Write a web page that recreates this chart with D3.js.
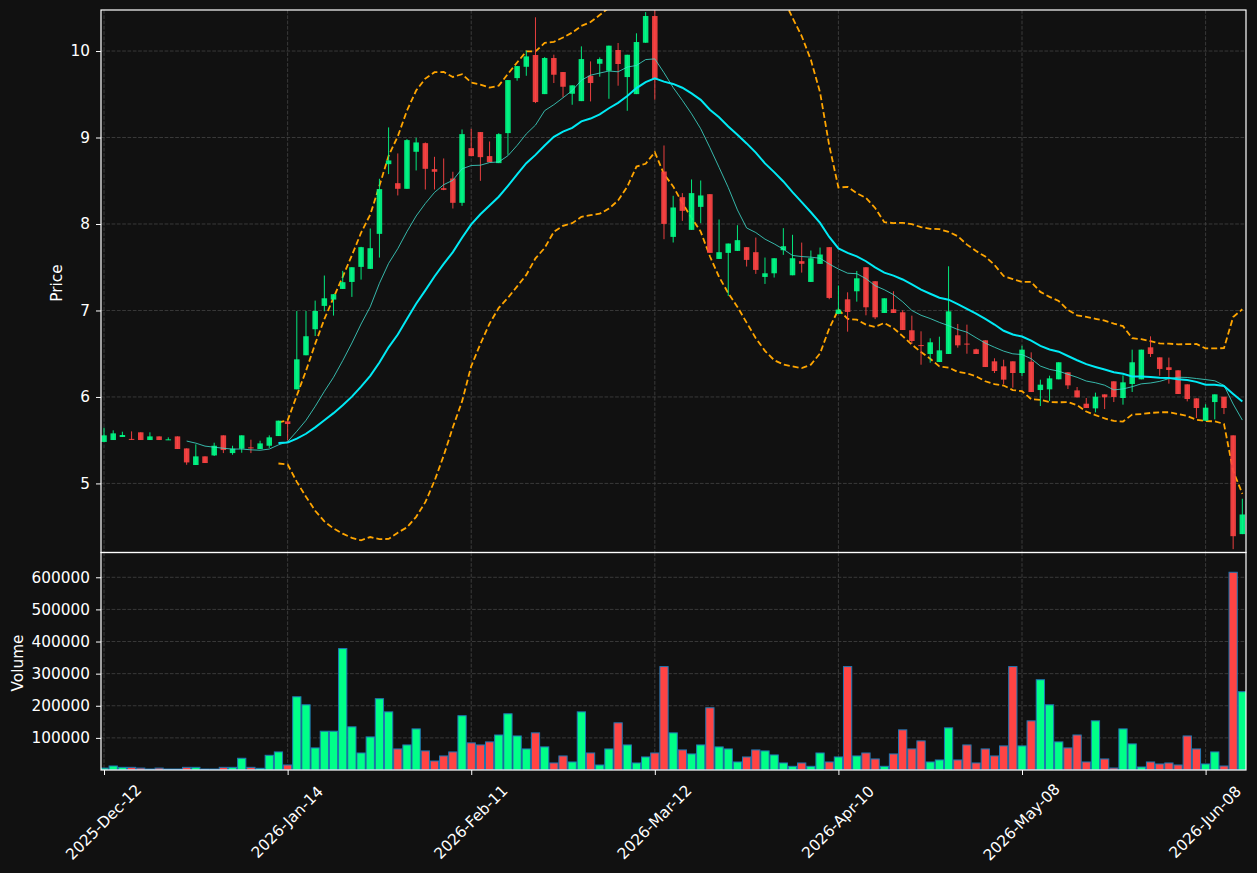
<!DOCTYPE html>
<html>
<head>
<meta charset="utf-8">
<script src="https://cdn.jsdelivr.net/npm/d3@7"></script>
<style>
  html, body { margin: 0; padding: 0; background: #111111; }
  svg { display: block; }
  text { font-family: "DejaVu Sans", sans-serif; fill: #ffffff; }
</style>
</head>
<body>
<div id="chart"></div>
<script>
// OHLC per trading day, index 0 = 2025-Dec-12
const opens = [5.48,5.502,5.537,5.515,5.591,5.502,5.544,5.502,5.544,5.405,5.213,5.313,5.324,5.556,5.351,5.402,5.417,5.398,5.436,5.548,
  5.718,6.088,6.482,6.783,7.053,7.126,7.249,7.33,7.504,7.481,7.886,8.692,8.472,8.407,8.835,8.935,8.634,8.414,8.526,8.245,
  8.877,9.063,8.785,8.704,9.051,9.687,9.818,9.954,9.502,9.919,9.757,9.506,9.421,9.714,9.853,9.772,10.012,9.699,9.502,10.096,
  10.405,8.607,7.851,8.31,7.932,8.198,8.345,7.596,7.666,7.689,7.732,7.674,7.388,7.43,7.697,7.407,7.57,7.33,7.539,7.732,
  6.96,7.129,7.222,7.5,7.338,6.971,7.014,6.979,6.771,6.6,6.497,6.404,6.497,6.713,6.617,6.551,6.655,6.412,6.354,6.412,
  6.277,6.408,6.08,6.088,6.204,6.285,6.076,5.922,5.868,6.03,6.181,5.988,6.15,6.204,6.574,6.458,6.343,6.308,6.146,5.984,
  5.725,5.941,6.003,5.556,4.414];
const highs = [5.645,5.614,5.598,5.602,5.591,5.591,5.544,5.533,5.544,5.405,5.452,5.313,5.471,5.556,5.436,5.556,5.506,5.494,5.556,5.726,
  5.718,6.995,6.995,7.114,7.404,7.188,7.458,7.5,7.736,7.948,8.523,9.117,8.816,8.982,8.997,8.943,8.777,8.758,8.604,9.093,
  9.101,9.063,8.954,9.05,9.664,9.826,10.004,10.39,9.93,9.958,9.757,9.603,10.054,9.88,9.926,10.062,10.093,9.957,10.205,10.45,
  10.47,8.908,8.326,8.357,8.515,8.503,8.345,8.052,7.774,7.986,7.732,7.843,7.612,7.604,7.952,7.875,7.785,7.693,7.728,7.732,
  7.288,7.21,7.457,7.5,7.338,7.141,7.222,7.002,6.94,6.759,6.678,6.697,7.511,6.844,6.836,6.559,6.655,6.447,6.431,6.412,
  6.593,6.516,6.2,6.246,6.401,6.285,6.115,5.988,6.05,6.03,6.181,6.25,6.547,6.547,6.701,6.458,6.455,6.308,6.146,5.984,
  5.915,6.03,6.003,5.556,4.823];
const lows = [5.48,5.502,5.537,5.502,5.502,5.502,5.502,5.502,5.398,5.216,5.213,5.236,5.317,5.351,5.332,5.355,5.351,5.398,5.41,5.548,
  5.498,6.088,6.482,6.705,6.991,6.941,7.249,7.157,7.357,7.481,7.612,8.577,8.33,8.407,8.619,8.399,8.399,8.391,8.179,8.21,
  8.785,8.499,8.715,8.704,8.8,9.657,9.714,9.398,9.502,9.63,9.464,9.379,9.421,9.417,9.703,9.448,9.599,9.309,9.502,10.096,
  9.437,7.824,7.786,8.036,7.932,8.009,7.666,7.596,7.168,7.689,7.508,7.423,7.307,7.381,7.643,7.407,7.438,7.33,7.539,7.13,
  6.96,6.755,7.102,6.944,6.9,6.971,6.971,6.774,6.612,6.373,6.396,6.404,6.497,6.57,6.5,6.497,6.346,6.277,6.146,6.107,
  6.242,6.057,5.895,5.953,6.204,6.092,5.995,5.872,5.822,5.86,5.941,5.911,6.057,6.204,6.462,6.246,6.154,6.034,5.949,5.756,
  5.725,5.741,5.802,4.24,4.414];
const closes = [5.556,5.579,5.56,5.507,5.502,5.544,5.502,5.51,5.398,5.243,5.313,5.236,5.436,5.386,5.402,5.556,5.405,5.463,5.533,5.726,
  5.687,6.435,6.702,6.995,7.141,7.188,7.327,7.5,7.732,7.72,8.403,8.735,8.407,8.97,8.943,8.638,8.604,8.395,8.245,9.039,
  8.785,8.773,8.715,9.039,9.664,9.826,9.938,9.41,9.919,9.726,9.587,9.603,9.907,9.63,9.907,10.062,9.85,9.957,10.104,10.405,
  9.668,8.001,8.191,8.152,8.357,8.33,7.666,7.674,7.774,7.813,7.585,7.469,7.43,7.604,7.743,7.604,7.54,7.604,7.647,7.145,
  7.01,6.983,7.372,7.037,6.921,7.141,6.971,6.774,6.647,6.59,6.632,6.539,6.99,6.597,6.61,6.497,6.346,6.3,6.2,6.277,
  6.547,6.057,6.142,6.215,6.401,6.134,5.995,5.872,6.003,5.996,5.999,6.169,6.401,6.547,6.497,6.324,6.312,6.034,5.976,5.872,
  5.876,6.03,5.872,4.39,4.641];
const volumes = [6000,12500,8300,8300,6000,3000,6000,3000,3000,8300,8300,3000,3000,8300,8300,36500,8300,5200,45800,56250,
  15600,228000,203000,68750,120800,120800,378000,134400,53000,103000,222000,181000,65600,78000,128000,59400,28000,43750,56250,169000,
  84400,78000,87500,109000,175000,106000,65600,115600,71900,21900,43750,25000,181000,53000,15600,65600,146900,78000,21900,40600,
  53000,322000,115600,62500,50000,78000,193750,71900,65600,25000,40600,62500,59400,46900,21900,11500,21900,11500,53000,25000,
  40600,322000,43750,53000,34400,11500,50000,125000,65600,90600,25000,31250,131250,31250,78000,21900,65600,43750,75000,322000,
  75000,153000,281000,203000,87500,68750,109000,25000,153000,34400,6250,128000,81250,9400,25000,18750,21900,15600,106000,65600,
  18750,56250,12500,615600,243750];

const tickIndex = [0, 20, 40, 60, 80, 100, 120];
const tickLabels = ["2025-Dec-12", "2026-Jan-14", "2026-Feb-11", "2026-Mar-12", "2026-Apr-10", "2026-May-08", "2026-Jun-08"];
const priceTicks = [5, 6, 7, 8, 9, 10];
const volumeTicks = [100000, 200000, 300000, 400000, 500000, 600000];

const width = 1257, height = 873;
const left = 101, right = 1246;
const priceTop = 10, priceBottom = 552.5, volTop = 552.5, volBottom = 770;

const up = "#00ff88", down = "#ff4444";
const gridColor = "#444444";

const n = closes.length;
const days = d3.range(n);

// rolling helpers (moving averages and bollinger bands from the closes)
const rolling = (arr, k, f) => arr.map((_, i) => i < k - 1 ? null : f(arr.slice(i - k + 1, i + 1)));
const ma10 = rolling(closes, 10, d3.mean);
const ma20 = rolling(closes, 20, d3.mean);
const sd20 = rolling(closes, 20, d3.deviation);
const bbUpper = ma20.map((m, i) => m == null ? null : m + 2 * sd20[i]);
const bbLower = ma20.map((m, i) => m == null ? null : m - 2 * sd20[i]);

const svg = d3.select('#chart')
  .append('svg')
  .attr('width', width)
  .attr('height', height)
  .style('background-color', '#111111');

const x = d3.scaleLinear().domain([-0.33, 124.4]).range([left, right]);
const yPrice = d3.scaleLinear().domain([4.2014, 10.4745]).range([priceBottom, priceTop]);
const yVol = d3.scaleLinear().domain([0, d3.max(volumes) * 1.1]).range([volBottom, volTop]);
const step = x(1) - x(0);

svg.append('clipPath').attr('id', 'clipPrice')
  .append('rect').attr('x', left).attr('y', priceTop)
  .attr('width', right - left).attr('height', priceBottom - priceTop);
svg.append('clipPath').attr('id', 'clipVol')
  .append('rect').attr('x', left).attr('y', volTop)
  .attr('width', right - left).attr('height', volBottom - volTop);

// grid
const grid = svg.append('g')
  .attr('stroke', gridColor).attr('stroke-width', 0.8)
  .attr('stroke-dasharray', '3.7,1.6');
priceTicks.forEach(t => grid.append('line')
  .attr('x1', left).attr('x2', right).attr('y1', yPrice(t)).attr('y2', yPrice(t)));
volumeTicks.forEach(t => grid.append('line')
  .attr('x1', left).attr('x2', right).attr('y1', yVol(t)).attr('y2', yVol(t)));
tickIndex.forEach(t => {
  grid.append('line').attr('x1', x(t)).attr('x2', x(t)).attr('y1', priceTop).attr('y2', priceBottom);
  grid.append('line').attr('x1', x(t)).attr('x2', x(t)).attr('y1', volTop).attr('y2', volBottom);
});

// price panel
const pricePanel = svg.append('g').attr('clip-path', 'url(#clipPrice)');

const lineOf = arr => d3.line()
  .defined(i => arr[i] != null)
  .x(i => x(i))
  .y(i => yPrice(arr[i]));

pricePanel.append('path')
  .attr('d', lineOf(bbUpper)(days))
  .attr('fill', 'none').attr('stroke', '#ffa500').attr('stroke-width', 1.8)
  .attr('stroke-dasharray', '6,3');
pricePanel.append('path')
  .attr('d', lineOf(bbLower)(days))
  .attr('fill', 'none').attr('stroke', '#ffa500').attr('stroke-width', 1.8)
  .attr('stroke-dasharray', '6,3');

// wicks
pricePanel.selectAll('.wick')
  .data(days)
  .enter()
  .append('line')
  .attr('class', 'wick')
  .attr('x1', i => x(i)).attr('x2', i => x(i))
  .attr('y1', i => yPrice(highs[i])).attr('y2', i => yPrice(lows[i]))
  .attr('stroke', i => closes[i] >= opens[i] ? up : down)
  .attr('stroke-opacity', 0.9)
  .attr('stroke-width', 1);

// bodies
const bodyW = step * 0.6;
pricePanel.selectAll('.body')
  .data(days)
  .enter()
  .append('rect')
  .attr('class', 'body')
  .attr('x', i => x(i) - bodyW / 2)
  .attr('width', bodyW)
  .attr('y', i => yPrice(Math.max(opens[i], closes[i])))
  .attr('height', i => Math.max(1, Math.abs(yPrice(opens[i]) - yPrice(closes[i]))))
  .attr('fill', i => closes[i] >= opens[i] ? up : down)
  .attr('fill-opacity', 0.9);

pricePanel.append('path')
  .attr('d', lineOf(ma10)(days))
  .attr('fill', 'none').attr('stroke', '#40e0d0').attr('stroke-opacity', 0.8)
  .attr('stroke-width', 1);
pricePanel.append('path')
  .attr('d', lineOf(ma20)(days))
  .attr('fill', 'none').attr('stroke', '#00eaf5')
  .attr('stroke-width', 2);

// volume panel
svg.append('g').attr('clip-path', 'url(#clipVol)')
  .selectAll('rect')
  .data(days)
  .enter()
  .append('rect')
  .attr('x', i => x(i) - step * 0.9 / 2)
  .attr('width', step * 0.9)
  .attr('y', i => yVol(volumes[i]))
  .attr('height', i => yVol(0) - yVol(volumes[i]))
  .attr('fill', i => closes[i] >= opens[i] ? up : down)
  .attr('stroke', '#1f77b4')
  .attr('stroke-width', 1);

// axes
const styleAxis = g => {
  g.select('.domain').remove();
  g.selectAll('line').attr('stroke', '#ffffff').attr('stroke-width', 1);
  g.selectAll('text').style('font-size', '15.3px').attr('fill', '#ffffff');
};

svg.append('g')
  .attr('transform', `translate(${left},0)`)
  .call(d3.axisLeft(yPrice).tickValues(priceTicks).tickSize(5).tickPadding(6).tickFormat(d3.format('d')))
  .call(styleAxis);

svg.append('g')
  .attr('transform', `translate(${left},0)`)
  .call(d3.axisLeft(yVol).tickValues(volumeTicks).tickSize(5).tickPadding(6).tickFormat(d3.format('d')))
  .call(styleAxis);

const xAxis = svg.append('g')
  .attr('transform', `translate(0,${volBottom})`)
  .call(d3.axisBottom(x).tickValues(tickIndex).tickSize(5).tickFormat((d, i) => tickLabels[i]))
  .call(styleAxis);
xAxis.selectAll('text')
  .attr('text-anchor', 'middle')
  .attr('y', null).attr('dy', '0.35em')
  .attr('transform', d => `translate(-1,${822 - volBottom}) rotate(-45)`);

// frames
[[priceTop, priceBottom], [volTop, volBottom]].forEach(([t, b]) => {
  svg.append('rect')
    .attr('x', left).attr('y', t)
    .attr('width', right - left).attr('height', b - t)
    .attr('fill', 'none').attr('stroke', '#ffffff').attr('stroke-width', 1.2);
});

// axis titles
svg.append('text')
  .attr('transform', 'translate(62,283) rotate(-90)')
  .attr('text-anchor', 'middle')
  .style('font-size', '15.3px')
  .text('Price');
svg.append('text')
  .attr('transform', 'translate(23,663) rotate(-90)')
  .attr('text-anchor', 'middle')
  .style('font-size', '15.3px')
  .text('Volume');
</script>
</body>
</html>
